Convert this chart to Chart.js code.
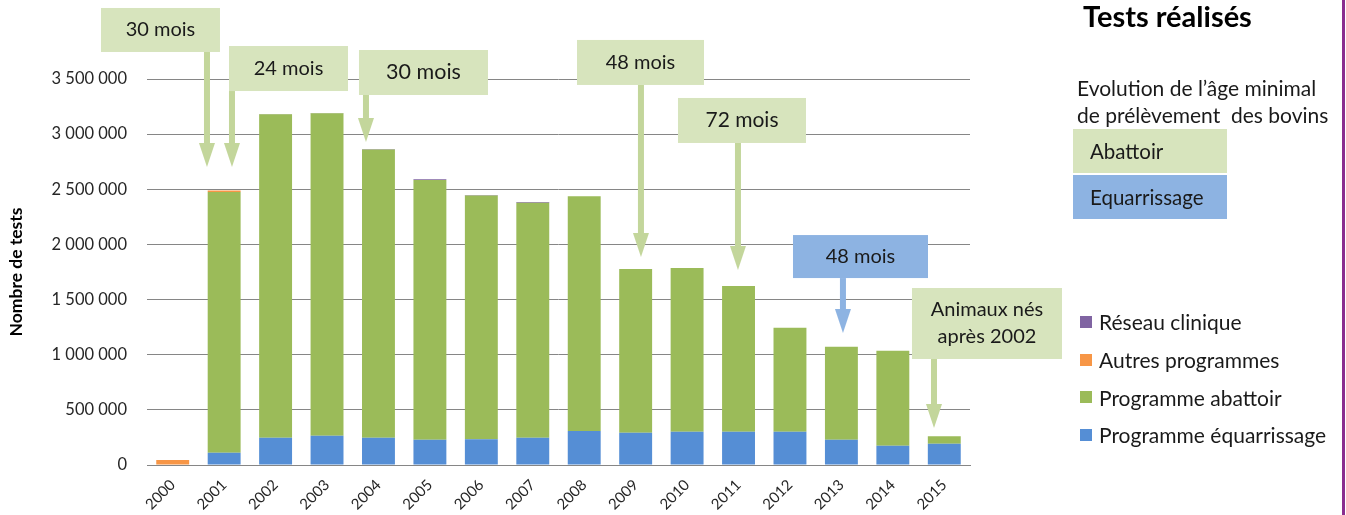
<!DOCTYPE html><html lang="fr">
<head>
    <meta charset="UTF-8">
    <title>Tests réalisés</title>
    <script src="https://cdn.jsdelivr.net/npm/chart.js"></script>
    <style>
        body { margin: 0; background: #fff; font-family: Lato, "Open Sans", sans-serif; color: #1a1a1a; }
        #wrap { position: relative; width: 1346px; height: 515px; overflow: hidden; }
        #testsChart { position: absolute; left: 0; top: 0; }
        #title { position: absolute; left: 1083px; top: -2px; font-size: 29px; font-weight: bold; color: #000; }
        #evo { position: absolute; left: 1077px; top: 74px; font-size: 21px; line-height: 27px; white-space: nowrap; }
        .agebox { position: absolute; left: 1073px; width: 154px; height: 44px; font-size: 20.5px; line-height: 44px; padding-left: 17px; box-sizing: border-box; }
        #legend { position: absolute; left: 1080px; top: 303px; font-size: 21px; white-space: nowrap; }
        .leg-item { height: 37.7px; display: flex; align-items: center; }
        .leg-sq { width: 12px; height: 12px; margin-right: 7px; }
        #sep { position: absolute; left: 1342px; top: 0; width: 3px; height: 515px; background: #8a2d8f; }
    </style>
</head>
<body>
<div id="wrap">
    <canvas id="testsChart" width="1346" height="515"></canvas>
    <div id="title">Tests réalisés</div>
    <div id="evo">Evolution de l’âge minimal<br>de prélèvement &nbsp;des bovins</div>
    <div class="agebox" style="top:129px; background:#d7e4bd;">Abattoir</div>
    <div class="agebox" style="top:175px; background:#8db3e2;">Equarrissage</div>
    <div id="legend"></div>
    <div id="sep"></div>
</div>
<script>
    // années
    const years = ["2000", "2001", "2002", "2003", "2004", "2005", "2006", "2007",
                   "2008", "2009", "2010", "2011", "2012", "2013", "2014", "2015"];

    // nombre de tests par programme
    const equarrissage = [0, 112000, 248000, 266000, 248000, 230000, 233000, 248000,
                          308000, 293000, 302000, 302000, 302000, 230000, 175000, 193000];
    const abattoir = [0, 2363000, 2932000, 2923000, 2612000, 2355000, 2210000, 2130000,
                      2128000, 1484000, 1484000, 1321000, 943000, 843000, 861000, 67000];
    const autres = [45000, 15000, 0, 0, 0, 0, 0, 0, 0, 0, 0, 0, 0, 0, 0, 0];
    const reseau = [0, 0, 3000, 3000, 5000, 5000, 5000, 7000, 0, 0, 0, 0, 0, 0, 0, 0];

    const yTicks = [0, 500000, 1000000, 1500000, 2000000, 2500000, 3000000, 3500000];

    // annotations : texte, position de la flèche (index année) et pointe (valeur),
    // centre de la boîte (index année) et haut de la boîte (valeur)
    const noteTexts = [["30 mois"], ["24 mois"], ["30 mois"], ["48 mois"], ["72 mois"], ["48 mois"], ["Animaux nés", "après 2002"]];
    const noteArrowX = [0.666, 1.152, 3.757, 9.103, 10.989, 13.03, 14.80];
    const noteTipValue = [2702000, 2702000, 2929000, 1886000, 1768000, 1197000, 335000];
    const noteBoxX = [-0.238, 2.251, 4.875, 9.094, 11.067, 13.371, 15.83];
    const noteBoxTop = [4144000, 3799000, 3763000, 3854000, 3328000, 2085000, 1605000];
    const noteKind = ["abattoir", "abattoir", "abattoir", "abattoir", "abattoir", "equarrissage", "abattoir"];

    const boxStyle = {
        abattoir: { fill: "#d7e4bd", arrow: "#c3d69b" },
        equarrissage: { fill: "#8db3e2", arrow: "#8db3e2" }
    };
    const boxWidths = [119, 119, 129, 127, 128, 135, 150];
    const boxHeights = [44, 45, 45, 45, 45, 43, 71];
    const boxFontSizes = [20, 20, 21.5, 20, 21, 20, 20];

    function formatSpace(v) {
        return String(v).replace(/\B(?=(\d{3})+(?!\d))/g, " ");
    }

    const notesPlugin = {
        id: "notes",
        afterDatasetsDraw(chart) {
            const ctx = chart.ctx;
            const xs = chart.scales.x;
            const ys = chart.scales.y;
            ctx.save();
            for (let i = 0; i < noteTexts.length; i++) {
                const st = boxStyle[noteKind[i]];
                const cx = xs.getPixelForValue(noteBoxX[i]);
                const top = ys.getPixelForValue(noteBoxTop[i]);
                const w = boxWidths[i], h = boxHeights[i];
                const ax = xs.getPixelForValue(noteArrowX[i]);
                const tip = ys.getPixelForValue(noteTipValue[i]);

                // flèche
                ctx.fillStyle = st.arrow;
                ctx.fillRect(ax - 3, top + h, 6, tip - 24 - (top + h));
                ctx.beginPath();
                ctx.moveTo(ax - 8, tip - 24);
                ctx.lineTo(ax + 8, tip - 24);
                ctx.lineTo(ax, tip);
                ctx.closePath();
                ctx.fill();

                // boîte
                ctx.fillStyle = st.fill;
                ctx.fillRect(cx - w / 2, top, w, h);
                ctx.fillStyle = "#1a1a1a";
                ctx.font = boxFontSizes[i] + "px Lato, 'Open Sans', sans-serif";
                ctx.textAlign = "center";
                ctx.textBaseline = "middle";
                const lines = noteTexts[i];
                const lh = 27;
                lines.forEach((t, k) => {
                    ctx.fillText(t, cx, top + h / 2 + (k - (lines.length - 1) / 2) * lh);
                });
            }
            ctx.restore();
        }
    };

    const datasets = [
        { label: "Programme équarrissage", data: equarrissage, backgroundColor: "#558ed5" },
        { label: "Programme abattoir", data: abattoir, backgroundColor: "#9bbb59" },
        { label: "Autres programmes", data: autres, backgroundColor: "#f79646" },
        { label: "Réseau clinique", data: reseau, backgroundColor: "#8064a2" }
    ];

    const chart = new Chart(document.getElementById("testsChart"), {
        type: "bar",
        data: {
            labels: years,
            datasets: datasets.map(d => ({ ...d, barPercentage: 0.64, categoryPercentage: 1 }))
        },
        options: {
            responsive: false,
            animation: false,
            layout: { padding: { top: 79, right: 376, left: 0, bottom: 0 } },
            plugins: { legend: { display: false }, tooltip: { enabled: false } },
            scales: {
                x: {
                    stacked: true,
                    grid: { display: false, drawTicks: false },
                    border: { color: "#868686" },
                    ticks: {
                        color: "#262626",
                        font: { family: "Lato", size: 15 },
                        minRotation: 45, maxRotation: 45, padding: 11
                    },
                    afterFit(scale) { scale.height = 50; }
                },
                y: {
                    stacked: true,
                    min: 0, max: 3500000,
                    afterBuildTicks(scale) { scale.ticks = yTicks.map(v => ({ value: v })); },
                    grid: { color: "#868686", drawTicks: false },
                    border: { display: false },
                    ticks: {
                        color: "#262626",
                        font: { family: "Lato", size: 16.5 },
                        padding: 20,
                        callback: v => formatSpace(v)
                    },
                    title: {
                        display: true, text: "Nombre de tests", color: "#000",
                        font: { family: "Lato", size: 17.5, weight: "bold" },
                        padding: { top: 6, bottom: 0 }
                    },
                    afterFit(scale) { scale.width = 147; }
                }
            }
        },
        plugins: [notesPlugin]
    });

    // légende à droite (ordre inversé)
    const legend = document.getElementById("legend");
    datasets.slice().reverse().forEach(d => {
        const item = document.createElement("div");
        item.className = "leg-item";
        item.innerHTML = `<span class="leg-sq" style="background:${d.backgroundColor}"></span>${d.label}`;
        legend.appendChild(item);
    });
</script>
</body>
</html>
